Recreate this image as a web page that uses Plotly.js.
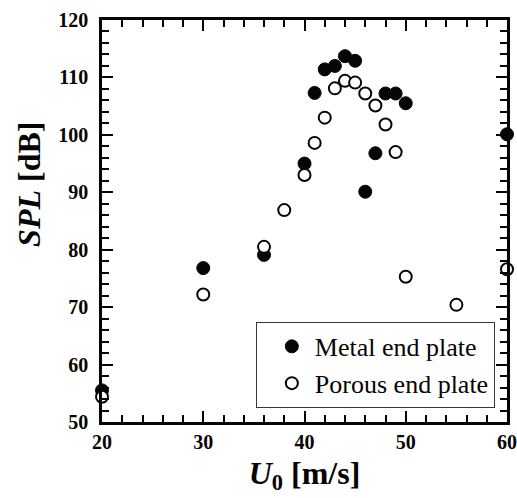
<!DOCTYPE html>
<html>
<head>
<meta charset="utf-8">
<script src="https://cdn.plot.ly/plotly-3.0.1.min.js"></script>
<style>html,body{margin:0;padding:0;background:#fff;}#chart{width:517px;height:498px;}</style>
</head>
<body>
<div id="chart"></div>
<script>
// Metal end plate
var metalU = [20, 30, 36, 40, 41, 42, 43, 44, 45, 46, 47, 48, 49, 50, 60];
var metalSPL = [55.5, 76.8, 79.1, 95.0, 107.3, 111.4, 112.0, 113.7, 112.9, 90.1, 96.8, 107.2, 107.2, 105.5, 100.1];
// Porous end plate
var porousU = [20, 30, 36, 38, 40, 41, 42, 43, 44, 45, 46, 47, 48, 49, 50, 55, 60];
var porousSPL = [54.4, 72.2, 80.5, 86.9, 93.0, 98.6, 103.0, 108.1, 109.4, 109.1, 107.2, 105.1, 101.8, 97.0, 75.3, 70.4, 76.6];
var seriesNames = ["Metal end plate", "Porous end plate"];
var xTicks = [20, 30, 40, 50, 60];
var yTicks = [50, 60, 70, 80, 90, 100, 110, 120];

var serif = 'Liberation Serif';

var traces = [
  {
    x: metalU, y: metalSPL, type: 'scatter', mode: 'markers', name: seriesNames[0],
    cliponaxis: false,
    marker: {symbol: 'circle', size: 13, color: '#000', line: {color: '#000', width: 1}}
  },
  {
    x: porousU, y: porousSPL, type: 'scatter', mode: 'markers', name: seriesNames[1],
    cliponaxis: false,
    marker: {symbol: 'circle', size: 12, color: '#fff', line: {color: '#000', width: 2}}
  }
];

var layout = {
  width: 517, height: 498,
  margin: {l: 102, r: 10, t: 20, b: 76},
  paper_bgcolor: '#fff', plot_bgcolor: '#fff',
  showlegend: true,
  xaxis: {
    range: [20, 60], tickvals: xTicks, ticktext: xTicks.map(String),
    showgrid: false, zeroline: false, showline: true, linecolor: '#000', linewidth: 2.5, mirror: 'ticks',
    ticks: 'inside', ticklen: 11, tickwidth: 2, tickcolor: '#000',
    minor: {dtick: 2, ticks: 'inside', ticklen: 7, tickwidth: 2, tickcolor: '#000', showgrid: false},
    tickfont: {family: serif, size: 20, color: '#000', weight: 'bold'},
    title: {text: '<b><i>U</i><sub>0</sub> [m/s]</b>', font: {family: serif, size: 32, color: '#000'}, standoff: 10}
  },
  yaxis: {
    range: [50, 120], tickvals: yTicks, ticktext: yTicks.map(String),
    showgrid: false, zeroline: false, showline: true, linecolor: '#000', linewidth: 2.5, mirror: 'ticks',
    ticks: 'inside', ticklen: 11, tickwidth: 2, tickcolor: '#000',
    minor: {dtick: 2, ticks: 'inside', ticklen: 7, tickwidth: 2, tickcolor: '#000', showgrid: false},
    tickfont: {family: serif, size: 20, color: '#000', weight: 'bold'},
    ticklabelstandoff: 7
  },
  annotations: [{
    text: '<b><i>SPL</i> [dB]</b>', textangle: -90,
    xref: 'paper', yref: 'paper', x: -0.18, y: 0.59, xanchor: 'center', yanchor: 'middle',
    showarrow: false, font: {family: serif, size: 32, color: '#000'}
  }],
  legend: {
    x: 0.97, y: 0.035, xanchor: 'right', yanchor: 'bottom',
    bgcolor: '#fff', bordercolor: '#333', borderwidth: 1,
    font: {family: serif, size: 26, color: '#000'},
    itemwidth: 36, indentation: 12, tracegroupgap: 0
  }
};

function forceRepaint() {
  var ov = document.getElementById('repaint');
  if (!ov) {
    ov = document.createElement('div');
    ov.id = 'repaint';
    ov.style.cssText = 'position:absolute;left:0;top:0;width:517px;height:498px;pointer-events:none;background:rgba(255,255,255,0.01);';
    document.body.appendChild(ov);
  } else {
    ov.style.background = ov.style.background.indexOf('0.01') >= 0 ? 'rgba(255,255,255,0.02)' : 'rgba(255,255,255,0.01)';
  }
}

Plotly.newPlot('chart', traces, layout, {displayModeBar: false}).then(function () {
  forceRepaint();
  setTimeout(forceRepaint, 60);
  setTimeout(forceRepaint, 300);
  setTimeout(forceRepaint, 800);
});
</script>
</body>
</html>
